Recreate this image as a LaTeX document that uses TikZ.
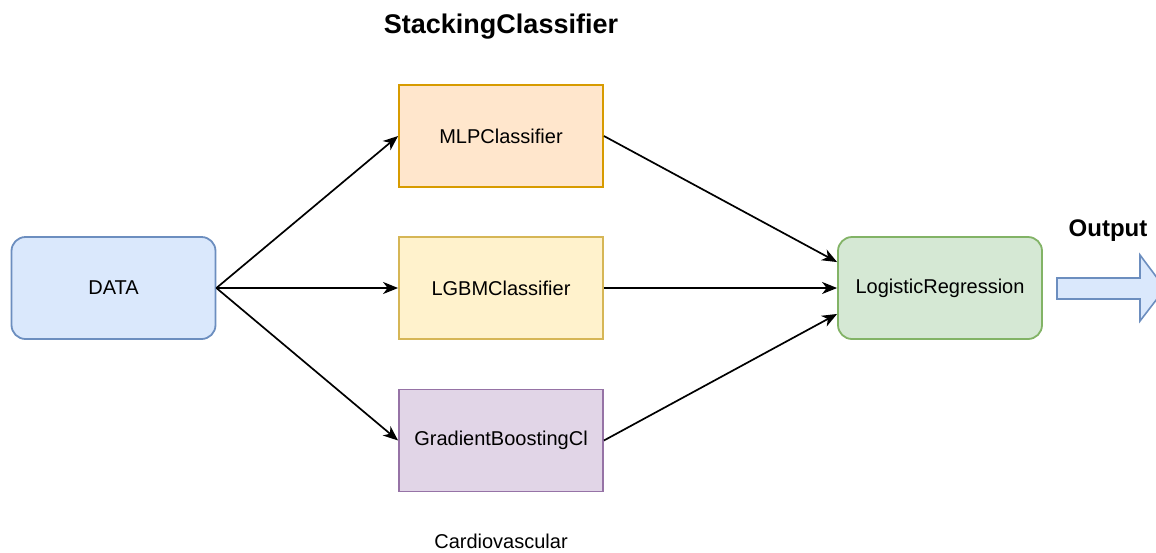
\documentclass[tikz,border=0pt]{standalone}
\usepackage{fontspec}
\setmainfont{Liberation Sans}
\usetikzlibrary{arrows.meta,calc}
\definecolor{bluefill}{HTML}{DAE8FC}\definecolor{bluedraw}{HTML}{6C8EBF}
\definecolor{orangefill}{HTML}{FFE6CC}\definecolor{orangedraw}{HTML}{D79B00}
\definecolor{yellowfill}{HTML}{FFF2CC}\definecolor{yellowdraw}{HTML}{D6B656}
\definecolor{purplefill}{HTML}{E1D5E7}\definecolor{purpledraw}{HTML}{9673A6}
\definecolor{greenfill}{HTML}{D5E8D4}\definecolor{greendraw}{HTML}{82B366}
\tikzset{
  box/.style={draw, line width=1.8pt, minimum width=204pt, minimum height=102pt,
    inner sep=0pt, font=\fontsize{20}{24}\selectfont},
  roundbox/.style={box, rounded corners=14pt},
  link/.style={line width=1.7pt, -{Stealth[length=15pt,width=12pt,inset=4.5pt]}},
  heading/.style={font=\fontsize{27}{32}\selectfont\bfseries},
}
\begin{document}
\begin{tikzpicture}[x=1pt,y=-1pt]
\useasboundingbox (0,0) rectangle (1156,552);
\clip (0,0) rectangle (1156,552);

\node[heading] (title) at (501,27) {StackingClassifier};

\node[roundbox, fill=bluefill, draw=bluedraw] (data) at (113.5,288) {DATA};
\node[box, fill=orangefill, draw=orangedraw] (mlp) at (501,136) {MLPClassifier};
\node[box, fill=yellowfill, draw=yellowdraw] (lgbm) at (501,288) {LGBMClassifier};
\node[box, fill=purplefill, draw=purpledraw] (gb) at (501,440.5) {GradientBoostingCl};
\node[roundbox, fill=greenfill, draw=greendraw] (lr) at (940,288) {LogisticRegression};

\node[font=\fontsize{20}{24}\selectfont] (caption) at (501,541) {Cardiovascular};
\node[font=\fontsize{24}{28}\selectfont\bfseries] (outlabel) at (1108,231) {Output};

\coordinate (lrupper) at ($(lr.north west)!0.25!(lr.south west)$);
\coordinate (lrlower) at ($(lr.north west)!0.75!(lr.south west)$);

\draw[link] (data.east) -- (mlp.west);
\draw[link] (data.east) -- (lgbm.west);
\draw[link] (data.east) -- (gb.west);
\draw[link] (mlp.east) -- (lrupper);
\draw[link] (lgbm.east) -- (lr.west);
\draw[link] (gb.east) -- (lrlower);

% block arrow for the output
\draw[line width=1.6pt, fill=bluefill, draw=bluedraw, line join=miter]
  (1057,278) -- (1140,278) -- (1140,255) -- (1165,288.5) -- (1140,321)
  -- (1140,299) -- (1057,299) -- cycle;
\end{tikzpicture}
\end{document}
